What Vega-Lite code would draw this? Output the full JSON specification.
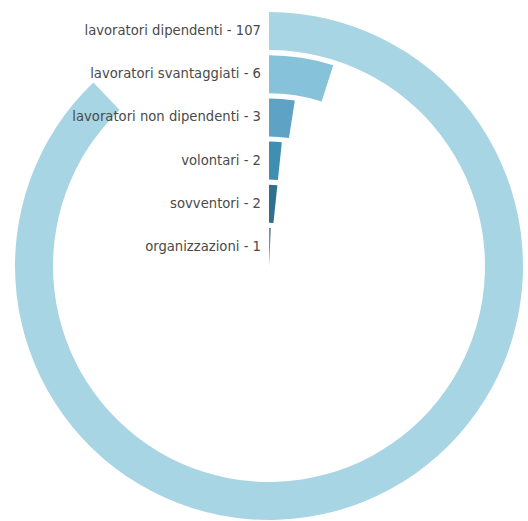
{
  "$schema": "https://vega.github.io/schema/vega-lite/v6.json",
  "width": 518,
  "height": 510,
  "autosize": "none",
  "padding": {"left": 10, "top": 11, "right": 0, "bottom": 0},
  "background": "white",
  "config": {"view": {"stroke": null}},
  "data": {"values": [
    {"categoria": "lavoratori dipendenti", "valore": 107},
    {"categoria": "lavoratori svantaggiati", "valore": 6},
    {"categoria": "lavoratori non dipendenti", "valore": 3},
    {"categoria": "volontari", "valore": 2},
    {"categoria": "sovventori", "valore": 2},
    {"categoria": "organizzazioni", "valore": 1}
  ]},
  "layer": [
    {
      "mark": {"type": "arc"},
      "encoding": {
        "theta": {"field": "valore", "type": "quantitative", "stack": true, "scale": {"domain": [0, 121.8]}},
        "radius": {"field": "categoria", "type": "nominal", "sort": ["organizzazioni", "sovventori", "volontari", "lavoratori non dipendenti", "lavoratori svantaggiati", "lavoratori dipendenti"], "scale": {"type": "band", "range": [0, 254], "paddingInner": 0.12, "paddingOuter": 0}},
        "color": {"field": "categoria", "type": "nominal", "legend": null, "scale": {"domain": ["lavoratori dipendenti", "lavoratori svantaggiati", "lavoratori non dipendenti", "volontari", "sovventori", "organizzazioni"], "range": ["#a8d5e3", "#86c2da", "#5ea3c6", "#3f8fb0", "#2f708f", "#6f8fa3"]}}
      }
    },
    {
      "mark": {"type": "text", "align": "right", "baseline": "middle", "dx": -8, "font": "DejaVu Sans", "fontSize": 13.2, "color": "#4a4a4a"},
      "encoding": {
        "theta": {"value": 0},
        "radius": {"field": "categoria", "type": "nominal", "bandPosition": 0.5, "sort": ["organizzazioni", "sovventori", "volontari", "lavoratori non dipendenti", "lavoratori svantaggiati", "lavoratori dipendenti"]},
        "text": {"field": "etichetta"}
      },
      "transform": [{"calculate": "datum.categoria + ' - ' + datum.valore", "as": "etichetta"}]
    }
  ]
}
